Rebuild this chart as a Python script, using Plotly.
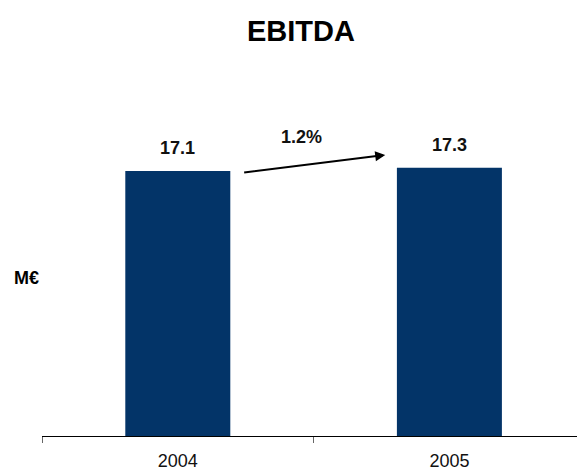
import plotly.graph_objects as go

# EBITDA by year, in M€
years = ["2004", "2005"]
ebitda = [17.1, 17.3]
growth_label = "1.2%"

bar_color = "#033468"
font_family = "Liberation Sans, Arial, sans-serif"

W, H = 577, 471
ML, MR, MT, MB = 42, 0, 60, 35
pw, ph = W - ML - MR, H - MT - MB
cat_px = 271.6          # width of one category slot in pixels
px_per_unit = 15.5      # vertical scale, pixels per M€

fig = go.Figure()
fig.add_trace(go.Bar(
    x=years,
    y=ebitda,
    width=105 / cat_px,
    marker=dict(color=bar_color, line=dict(width=0)),
    hoverinfo="skip",
))

annotations = []
# Value labels above each bar (category index used for x)
for i, v in enumerate(ebitda):
    annotations.append(dict(
        x=i, y=v, xref="x", yref="y",
        text=f"<b>{v:.1f}</b>", showarrow=False,
        xanchor="center", yanchor="middle", yshift=23,
        font=dict(size=18, color="#111111", family=font_family),
    ))

# Growth arrow between the two bars
annotations.append(dict(
    x=0.7637, y=ebitda[1] + 0.83, xref="x", yref="y",
    ax=0.2388, ay=ebitda[0] - 0.11, axref="x", ayref="y",
    text="", showarrow=True, arrowhead=2, arrowsize=1.0,
    arrowwidth=2, arrowcolor="#000000", standoff=0, startstandoff=0,
))
annotations.append(dict(
    x=0.5 - 12 / cat_px, y=ebitda[1] + 2.0, xref="x", yref="y",
    text=f"<b>{growth_label}</b>", showarrow=False,
    xanchor="center", yanchor="middle",
    font=dict(size=18, color="#111111", family=font_family),
))

# Title and unit label, positioned in pixels then mapped to paper coords
for txt, px, py, size in [("<b>EBITDA</b>", 300.5, 30.5, 29), ("<b>M€</b>", 26.5, 278, 18)]:
    annotations.append(dict(
        x=(px - ML) / pw, y=(H - MB - py) / ph, xref="paper", yref="paper",
        text=txt, showarrow=False, xanchor="center", yanchor="middle",
        font=dict(size=size, color="#000000", family=font_family),
    ))

fig.update_layout(
    width=W, height=H,
    margin=dict(l=ML, r=MR, t=MT, b=MB),
    paper_bgcolor="white", plot_bgcolor="white",
    showlegend=False,
    annotations=annotations,
    xaxis=dict(
        type="category",
        range=[-0.5, -0.5 + pw / cat_px],
        tickson="boundaries",
        ticks="outside", ticklen=6, tickcolor="#666666", tickwidth=1,
        showline=True, linecolor="#000000", linewidth=1,
        showgrid=False, zeroline=False,
        ticklabelstandoff=8,
        tickfont=dict(size=18, color="#111111", family=font_family),
    ),
    yaxis=dict(
        range=[0, ph / px_per_unit],
        visible=False, showgrid=False, zeroline=False,
    ),
)

fig.write_html("out.html")
